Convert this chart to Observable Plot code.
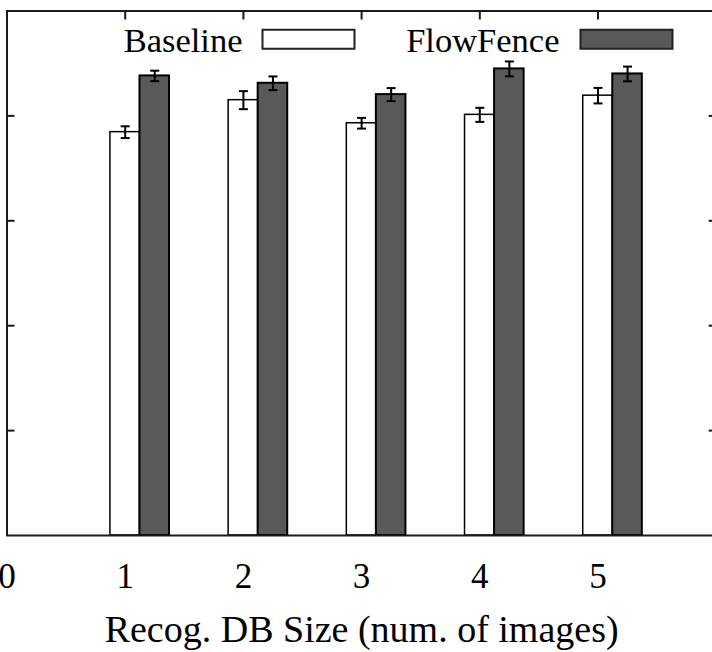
<!DOCTYPE html>
<html>
<head>
<meta charset="utf-8">
<script src="https://cdn.jsdelivr.net/npm/d3@7"></script>
<script src="https://cdn.jsdelivr.net/npm/@observablehq/plot@0.6"></script>
<style>
  html, body { margin: 0; padding: 0; background: #fff; overflow: hidden; }
  #chart svg { display: block; overflow: hidden; }
</style>
</head>
<body>
<div id="chart"></div>
<script>
// ---- data ----
const sizes = [1, 2, 3, 4, 5];
const baseline = [3.845, 4.150, 3.930, 4.010, 4.193];
const baselineErr = [0.056, 0.086, 0.051, 0.067, 0.074];
const flowfence = [4.381, 4.311, 4.203, 4.448, 4.400];
const flowfenceErr = [0.050, 0.065, 0.062, 0.071, 0.070];
const xTicks = [0, 1, 2, 3, 4, 5];
const yTicks = [1, 2, 3, 4];
const seriesNames = ["Baseline", "FlowFence"];
const xLabel = "Recog. DB Size (num. of images)";

// ---- build table ----
const barW = 0.25;
const rows = [];
sizes.forEach((s, i) => {
  rows.push({series: seriesNames[0], size: s, v: baseline[i], e: baselineErr[i], c: s});
  rows.push({series: seriesNames[1], size: s, v: flowfence[i], e: flowfenceErr[i], c: s + barW});
});

const fillOf = {Baseline: "#ffffff", FlowFence: "#595959"};
const ink = "#1a1a1a";
const font = "'Liberation Serif', 'DejaVu Serif', serif";
const noLabel = () => "";

const capSymbol = {draw(ctx) { ctx.moveTo(-4.5, 0); ctx.lineTo(4.5, 0); }};
const boxSymbol = {draw(ctx) { ctx.rect(-46, -9.5, 92, 19); }};

const chart = Plot.plot({
  width: 712,
  height: 652,
  marginLeft: 6.5,
  marginRight: -3.7,
  marginTop: 10.5,
  marginBottom: 117,
  style: {fontFamily: font, background: "#fff", color: ink},
  x: {type: "linear", domain: [0, 6]},
  y: {type: "linear", domain: [0, 5]},
  marks: [
    // inward ticks (mirrored, gnuplot style)
    Plot.axisX(xTicks, {anchor: "bottom", tickSize: -8, tickFormat: noLabel, label: null, stroke: ink, strokeWidth: 2}),
    Plot.axisX(xTicks, {anchor: "top", tickSize: -8, tickFormat: noLabel, label: null, stroke: ink, strokeWidth: 2}),
    Plot.axisY(yTicks, {anchor: "left", tickSize: -8, tickFormat: noLabel, label: null, stroke: ink, strokeWidth: 2}),
    Plot.axisY(yTicks, {anchor: "right", tickSize: -8, tickFormat: noLabel, label: null, stroke: ink, strokeWidth: 2}),
    // x tick labels
    Plot.axisX(xTicks, {anchor: "bottom", tickSize: 0, tickPadding: 28, fontSize: 35, fontFamily: font, label: null, fill: "#000", tickFormat: d => String(d)}),
    // bars
    Plot.rectY(rows, {
      x1: d => d.c - barW / 2, x2: d => d.c + barW / 2, y1: 0, y2: "v",
      fill: d => fillOf[d.series], stroke: "#000",
      strokeWidth: d => d.series === "Baseline" ? 1.5 : 2
    }),
    // error bars
    Plot.ruleX(rows, {x: "c", y1: d => d.v - d.e, y2: d => d.v + d.e, stroke: "#000", strokeWidth: 2}),
    Plot.dot(rows, {x: "c", y: d => d.v - d.e, symbol: capSymbol, stroke: "#000", strokeWidth: 2, r: 4.5}),
    Plot.dot(rows, {x: "c", y: d => d.v + d.e, symbol: capSymbol, stroke: "#000", strokeWidth: 2, r: 4.5}),
    // frame
    Plot.frame({stroke: ink, strokeWidth: 2}),
    // x axis title
    Plot.text([xLabel], {text: d => d, frameAnchor: "bottom", lineAnchor: "bottom", dy: 106, fontSize: 38, fontFamily: font, fill: "#000"}),
    // legend
    Plot.text([seriesNames[0]], {text: d => d, frameAnchor: "top-left", textAnchor: "end", lineAnchor: "bottom", dx: 235.5, dy: 40.5, fontSize: 34.5, fontFamily: font, fill: "#000"}),
    Plot.dot([seriesNames[0]], {frameAnchor: "top-left", dx: 301.5, dy: 28.3, symbol: boxSymbol, fill: fillOf.Baseline, stroke: "#222", strokeWidth: 2}),
    Plot.text([seriesNames[1]], {text: d => d, frameAnchor: "top-left", textAnchor: "end", lineAnchor: "bottom", dx: 552.5, dy: 40.5, fontSize: 34.5, fontFamily: font, fill: "#000"}),
    Plot.dot([seriesNames[1]], {frameAnchor: "top-left", dx: 619.5, dy: 28.3, symbol: boxSymbol, fill: fillOf.FlowFence, stroke: "#222", strokeWidth: 2})
  ]
});
document.getElementById("chart").appendChild(chart);
</script>
</body>
</html>
